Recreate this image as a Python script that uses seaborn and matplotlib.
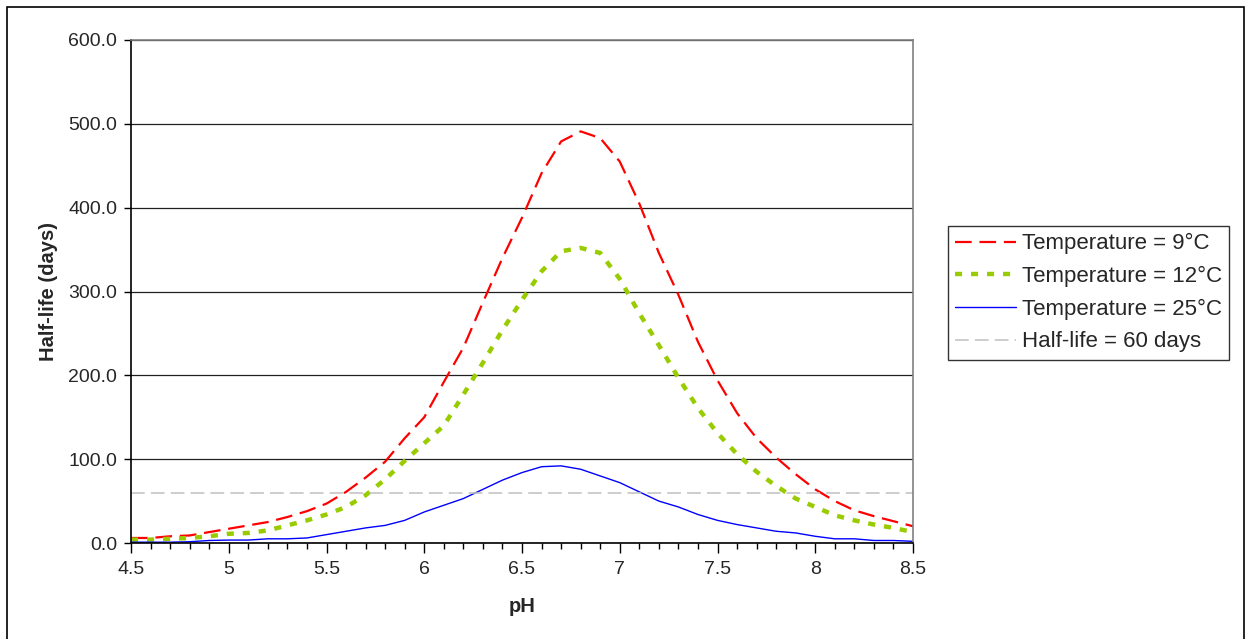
import numpy as np
import pandas as pd
import matplotlib
matplotlib.use("Agg")
import matplotlib.pyplot as plt
import seaborn as sns
from matplotlib.ticker import MultipleLocator, FormatStrFormatter
from matplotlib.patches import Rectangle

ph = [4.5, 4.6, 4.7, 4.8, 4.9, 5.0, 5.1, 5.2, 5.3, 5.4, 5.5, 5.6, 5.7, 5.8, 5.9,
      6.0, 6.1, 6.2, 6.3, 6.4, 6.5, 6.6, 6.7, 6.8, 6.9, 7.0, 7.1, 7.2, 7.3, 7.4,
      7.5, 7.6, 7.7, 7.8, 7.9, 8.0, 8.1, 8.2, 8.3, 8.4, 8.5]
temp_9c = [6, 6, 8, 9, 13, 17, 21, 25, 31, 38, 47, 61, 78, 97, 125,
           150, 192, 233, 287, 340, 388, 441, 479, 491, 483, 455, 405, 346, 296, 240,
           194, 155, 125, 102, 82, 64, 50, 39, 32, 26, 20]
temp_12c = [4, 4, 5, 6, 8, 11, 12, 15, 21, 27, 34, 43, 57, 76, 98,
            119, 140, 177, 215, 254, 290, 324, 348, 352, 346, 315, 274, 236, 197, 161,
            131, 106, 85, 68, 53, 43, 33, 27, 22, 18, 13]
temp_25c = [1, 1, 1, 1.5, 3, 3.5, 3.5, 5, 5, 6, 10, 14, 18, 21, 27,
            37, 45, 53, 64, 75, 84, 91, 92, 88, 80, 72, 61, 50, 43, 34,
            27, 22, 18, 14, 12, 8, 5, 5, 3, 3, 2]
half_life_limit = [60] * len(ph)

labels = ["Temperature = 9°C", "Temperature = 12°C",
          "Temperature = 25°C", "Half-life = 60 days"]

sns.set_style("white")
plt.rcParams['font.family'] = ['Liberation Sans', 'DejaVu Sans']

fig = plt.figure(figsize=(12.52, 6.39), dpi=100)
ax = fig.add_axes([131/1252, 96/639, (913-131)/1252, (543-40)/639])

df = pd.DataFrame({"pH": ph, "t9": temp_9c, "t12": temp_12c,
                   "t25": temp_25c, "lim": half_life_limit})

sns.lineplot(data=df, x="pH", y="t9", ax=ax, color="#ff0000", lw=1.6,
             label=labels[0])
sns.lineplot(data=df, x="pH", y="t12", ax=ax, color="#99cc00", lw=3.2,
             label=labels[1])
sns.lineplot(data=df, x="pH", y="t25", ax=ax, color="#0000ff", lw=1.0,
             label=labels[2])
sns.lineplot(data=df, x="pH", y="lim", ax=ax, color="#c0c0c0", lw=1.1,
             label=labels[3])
lines = ax.get_lines()
lines[0].set_dashes([7.5, 3.5])
lines[1].set_dashes([1.6, 2.0])
lines[3].set_dashes([9, 4])

ax.set_xlim(4.5, 8.5)
ax.set_ylim(0, 600)
ax.xaxis.set_major_locator(MultipleLocator(0.5))
ax.xaxis.set_minor_locator(MultipleLocator(0.1))
ax.yaxis.set_major_locator(MultipleLocator(100))
ax.yaxis.set_major_formatter(FormatStrFormatter("%.1f"))
ax.set_xticks([4.5, 5, 5.5, 6, 6.5, 7, 7.5, 8, 8.5])
ax.set_xticklabels(["4.5", "5", "5.5", "6", "6.5", "7", "7.5", "8", "8.5"])

ax.grid(axis="y", color="#202020", lw=0.9)
ax.set_axisbelow(True)
ax.tick_params(axis="x", which="major", direction="out", length=7, width=1,
               color="black", labelsize=14, pad=6, bottom=True)
ax.tick_params(axis="x", which="minor", direction="out", length=4, width=1,
               color="black", bottom=True)
ax.tick_params(axis="y", which="major", direction="out", length=5, width=1,
               color="black", labelsize=14, pad=5, left=True)
for s in ["left", "bottom"]:
    ax.spines[s].set_color("black")
    ax.spines[s].set_linewidth(1.2)
for s in ["top", "right"]:
    ax.spines[s].set_color("#808080")
    ax.spines[s].set_linewidth(1.2)

ax.set_xlabel("pH", fontsize=14.5, fontweight="bold", labelpad=14)
ax.set_ylabel("Half-life (days)", fontsize=14.5, fontweight="bold", labelpad=7)

leg = ax.legend(loc="upper left", bbox_to_anchor=(948/1252, 1 - 226/639),
                bbox_transform=fig.transFigure, borderaxespad=0,
                fontsize=16, frameon=True, fancybox=False, handlelength=2.75,
                handletextpad=0.25, labelspacing=0.52, borderpad=0.33)
leg.get_frame().set_edgecolor("black")
leg.get_frame().set_linewidth(1.0)

fig.add_artist(Rectangle((7/1252, -0.02), (1244-7)/1252, 1.02 - 7/639,
                         transform=fig.transFigure, fill=False,
                         edgecolor="black", lw=1.2))

fig.savefig("out.png", dpi=100)
